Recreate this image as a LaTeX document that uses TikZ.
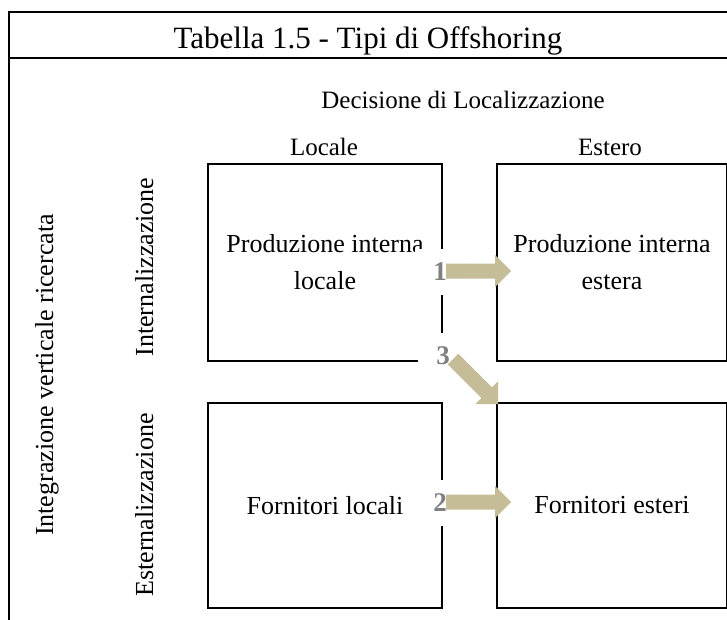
\documentclass[tikz,border=0pt]{standalone}
\usepackage{fontspec}
\setmainfont{Liberation Serif}
\usetikzlibrary{calc}
\definecolor{arrowtan}{RGB}{196,189,151}
\definecolor{numgray}{RGB}{128,128,128}
\newcommand{\blockarrow}[2]{%
  \coordinate (hb) at ($(#2)!16pt!(#1)$);
  \fill[arrowtan] ($(#1)!7.5pt!90:(#2)$) -- ($(hb)!7.5pt!-90:(#1)$) -- ($(hb)!16pt!-90:(#1)$) -- (#2)
    -- ($(hb)!16pt!90:(#1)$) -- ($(hb)!7.5pt!90:(#1)$) -- ($(#1)!7.5pt!-90:(#2)$) -- cycle;}
\begin{document}
\begin{tikzpicture}[x=1pt,y=-1pt,
  frame/.style={line width=2pt},
  box/.style={draw=black, line width=2pt, anchor=north west, align=center,
    font=\fontsize{26}{37}\selectfont, inner sep=0pt},
  lbl/.style={font=\fontsize{26}{32}\selectfont, inner sep=0pt},
  num/.style={fill=white, minimum width=50pt, minimum height=46pt, inner sep=0pt,
    font=\fontsize{27}{30}\selectfont\bfseries, text=numgray}]
\useasboundingbox (0,0) rectangle (727,620);
\draw[frame] (9,620) -- (9,12) -- (727,12);
\draw[frame] (9,58) -- (727,58);
\node[anchor=base, font=\fontsize{31}{37}\selectfont, inner sep=0pt] (title) at (368,49) {Tabella 1.5 - Tipi di Offshoring};
\node[lbl, anchor=base, font=\fontsize{25}{30}\selectfont] (dec) at (463,109) {Decisione di Localizzazione};
\node[lbl, anchor=base, font=\fontsize{25}{30}\selectfont] (loc) at (324,156) {Locale};
\node[lbl, anchor=base, font=\fontsize{25}{30}\selectfont] (est) at (610,156) {Estero};
\node[lbl, rotate=90, anchor=base] (ivr) at (53,375) {Integrazione verticale ricercata};
\node[lbl, rotate=90, anchor=base] (int) at (153,267) {Internalizzazione};
\node[lbl, rotate=90, anchor=base] (ext) at (153,505) {Esternalizzazione};
\node[box, minimum width=234pt, minimum height=197pt] (tl) at (207,163) {Produzione interna\\locale};
\node[box, minimum width=230pt, minimum height=197pt] (tr) at (496,163) {Produzione interna\\estera};
\node[box, minimum width=234pt, minimum height=205pt] (bl) at (207,402) {Fornitori locali};
\node[box, minimum width=230pt, minimum height=205pt] (br) at (496,402) {Fornitori esteri};
\node[num] (n1) at (440,272) {1};
\node[num] (n3) at (443,356) {3};
\node[num] (n2) at (440,503) {2};
\coordinate (a1s) at (446,271);
\coordinate (a1e) at (511,271);
\coordinate (a2s) at (446,502);
\coordinate (a2e) at (511,502);
\coordinate (a3s) at (453,359);
\coordinate (a3e) at (498,404);
\blockarrow{a1s}{a1e}
\blockarrow{a2s}{a2e}
\blockarrow{a3s}{a3e}
\end{tikzpicture}
\end{document}
